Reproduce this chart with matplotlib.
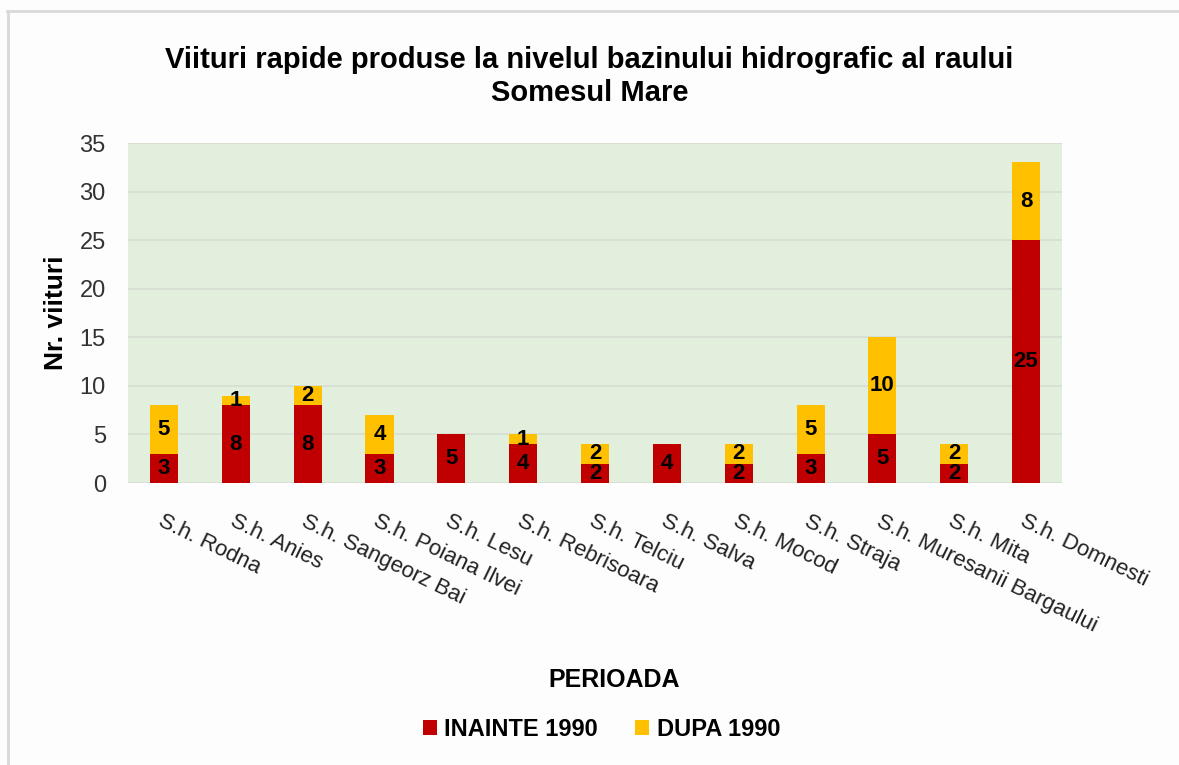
import numpy as np
import matplotlib.pyplot as plt
from matplotlib.lines import Line2D

plt.rcParams['font.family'] = ['Liberation Sans', 'DejaVu Sans']

statii = ['S.h. Rodna', 'S.h. Anies', 'S.h. Sangeorz Bai', 'S.h. Poiana Ilvei',
          'S.h. Lesu', 'S.h. Rebrisoara', 'S.h. Telciu', 'S.h. Salva',
          'S.h. Mocod', 'S.h. Straja', 'S.h. Muresanii Bargaului', 'S.h. Mita',
          'S.h. Domnesti']
inainte = [3, 8, 8, 3, 5, 4, 2, 4, 2, 3, 5, 2, 25]
dupa = [5, 1, 2, 4, 0, 1, 2, 0, 2, 5, 10, 2, 8]
yticks = [0, 5, 10, 15, 20, 25, 30, 35]

red = '#C00000'
yellow = '#FFC000'

fig = plt.figure(figsize=(11.79, 7.65), dpi=100)
fig.patch.set_facecolor('#FDFDFD')
ax = fig.add_axes([0.1086, 0.3686, 0.7922, 0.4444])
ax.set_facecolor('#E3EFDD')

x = np.arange(len(statii))
w = 0.39
b1 = ax.bar(x, inainte, w, color=red, label='INAINTE 1990', zorder=3)
b2 = ax.bar(x, dupa, w, bottom=inainte, color=yellow, label='DUPA 1990', zorder=3)

for bars, vals in ((b1, inainte), (b2, dupa)):
    for r, v in zip(bars, vals):
        if v == 0:
            continue
        ax.text(r.get_x() + r.get_width() / 2, r.get_y() + r.get_height() / 2, str(v),
                ha='center', va='center', fontsize=16, fontweight='bold',
                color='black', zorder=4)

ax.set_xlim(-0.5, len(statii) - 0.5)
ax.set_ylim(0, 35)
ax.set_yticks(yticks)
ax.yaxis.grid(True, color='#D6DDD3', linewidth=1.2, zorder=0)
ax.tick_params(axis='y', length=0, labelsize=17, colors='#333333', pad=16)
ax.tick_params(axis='x', length=0, labelsize=16, colors='#222222', pad=20)
ax.set_xticks(x)
ax.set_xticklabels(statii, rotation=-26, ha='left', rotation_mode='anchor')
for s in ax.spines.values():
    s.set_visible(False)

ax.set_ylabel('Nr. viituri', fontsize=19, fontweight='bold', labelpad=8)
ax.set_xlabel('PERIOADA', fontsize=18, fontweight='bold')
ax.xaxis.set_label_coords(0.52, -0.545)

fig.text(0.5, 0.9, 'Viituri rapide produse la nivelul bazinului hidrografic al raului\nSomesul Mare',
         ha='center', va='center', fontsize=21, fontweight='bold', linespacing=1.2)

fig.legend(handles=[b1, b2], loc='center', bbox_to_anchor=(0.51, 0.047), ncol=2,
           frameon=False, handlelength=0.6, handleheight=0.6,
           handletextpad=0.3, columnspacing=1.6, prop={'weight': 'bold', 'size': 17})

# chenarul imaginii (sus si stanga)
fig.add_artist(Line2D([7 / 1179, 1], [1 - 11 / 765, 1 - 11 / 765], color='#D9D9D9', lw=2))
fig.add_artist(Line2D([8 / 1179, 8 / 1179], [0, 1 - 11 / 765], color='#D9D9D9', lw=2))

fig.savefig('out.png', dpi=100, facecolor=fig.get_facecolor())
